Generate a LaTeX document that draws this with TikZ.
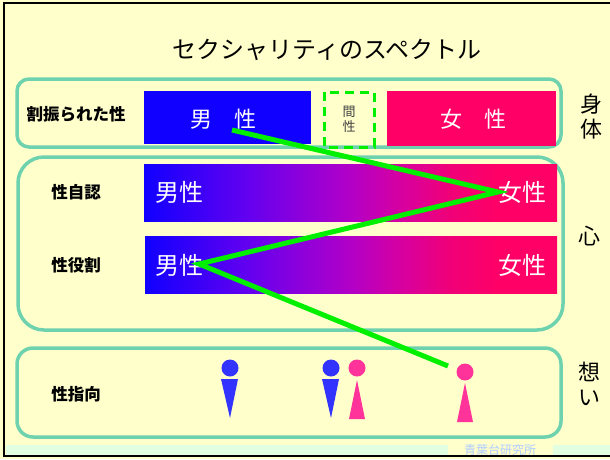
\documentclass[tikz,border=0pt]{standalone}
\usepackage{fontspec}
\usepackage{xcolor}
\newfontfamily\jp{Noto Sans CJK JP}

\definecolor{fondo}{RGB}{255,255,204}
\definecolor{marco}{RGB}{110,210,175}
\definecolor{azul}{RGB}{16,0,255}
\definecolor{rosa}{RGB}{255,0,102}
\definecolor{verde}{RGB}{0,240,0}
\definecolor{figazul}{RGB}{51,51,255}
\definecolor{figrosa}{RGB}{255,51,153}
\definecolor{franja}{RGB}{226,255,226}
\definecolor{sello}{RGB}{175,205,255}

% degradado azul -> morado -> rosa
\pgfdeclarehorizontalshading{espectro}{100bp}{%
  rgb(0bp)=(0.063,0,1); rgb(25bp)=(0.063,0,1);
  rgb(37.5bp)=(0.39,0,0.94); rgb(43.8bp)=(0.55,0,0.86);
  rgb(50bp)=(0.70,0,0.78); rgb(56bp)=(0.84,0,0.63);
  rgb(62bp)=(0.94,0,0.47); rgb(68bp)=(1,0,0.4);
  rgb(75bp)=(1,0,0.4); rgb(100bp)=(1,0,0.4)}

\tikzset{
  caja/.style={draw=marco, line width=3.5pt},
  etiq/.style={font=\jp\bfseries\fontsize{16.5}{16.5}\selectfont, text=black},
  lado/.style={font=\jp\fontsize{22}{25}\selectfont, align=center, text=black},
  sexo/.style={font=\jp\fontsize{22}{22}\selectfont, text=white},
  grad/.style={font=\jp\fontsize{24}{24}\selectfont, text=white}
}

\begin{document}
\begin{tikzpicture}[x=1pt,y=-1pt]

    % fondo y marco
    \useasboundingbox (0,0) rectangle (610,459);
    \fill[fondo] (0,0) rectangle (610,459);
    \draw[black, line width=2pt] (612,3) -- (4,3) -- (4,456) -- (612,456);

    % titulo
    \node[font=\jp\fontsize{24}{24}\selectfont] (titulo) at (327,50) {セクシャリティのスペクトル};

    % cajas redondeadas
    \draw[caja, rounded corners=12pt] (17,79) rectangle (561,147);
    \draw[caja, rounded corners=26pt] (18,157) rectangle (563,330);
    \draw[caja, rounded corners=16pt] (17,348) rectangle (561,437);

    % fila 1: sexo asignado
    \node[etiq] (asig) at (76,114) {割振られた性};
    \fill[azul] (144,91) rectangle (311,144);
    \node[sexo] (hombre) at (223,119) {男　性};
    \draw[verde, line width=3pt, dash pattern=on 9pt off 6pt] (324,92) rectangle (374,147);
    \node[font=\jp\fontsize{13}{15}\selectfont, text=black!75, align=center] (inter) at (349,119) {間\\性};
    \fill[rosa] (387,91) rectangle (556,146);
    \node[sexo] (mujer) at (473,119) {女　性};

    % filas 2 y 3: identidad y rol
    \node[etiq] (ident) at (76,192) {性自認};
    \shade[shading=espectro] (144,164) rectangle (557,221);
    \node[grad] (ident1) at (179,192) {男性};
    \node[grad] (ident2) at (522,192) {女性};

    \node[etiq] (rol) at (76,265) {性役割};
    \shade[shading=espectro] (145,236) rectangle (557,293);
    \node[grad] (rol1) at (179,265) {男性};
    \node[grad] (rol2) at (522,265) {女性};

    % fila 4: orientacion
    \node[etiq] (orient) at (76,394) {性指向};
    \fill[figazul] (230,368) circle (8.5pt);
    \fill[figazul] (221,379) -- (238,379) -- (230,418) -- cycle;
    \fill[figazul] (331,368) circle (8.5pt);
    \fill[figazul] (322,379) -- (339,379) -- (331,418) -- cycle;
    \fill[figrosa] (357,368) circle (8.5pt);
    \fill[figrosa] (357,380) -- (365,419) -- (349,419) -- cycle;
    \fill[figrosa] (465,372) circle (8.5pt);
    \fill[figrosa] (465,383) -- (473,422) -- (457,422) -- cycle;

    % textos a la derecha
    \node[lado] (cuerpo) at (591,117) {身\\体};
    \node[lado] (mente) at (589,236) {心};
    \node[lado] (deseo) at (589,384) {想\\い};

    % linea verde
    \coordinate (v1) at (232,130);
    \coordinate (v2) at (498,192);
    \coordinate (v3) at (199,264);
    \coordinate (v4) at (448,366);
    \draw[verde, line width=5pt] (v1) -- (v2) -- (v3) -- (v4);

    % sello
    \fill[franja] (6,445) rectangle (448,455);
    \fill[franja] (553,445) rectangle (610,455);
    \node[font=\jp\fontsize{12}{12}\selectfont, text=sello] (firma) at (500,450) {青葉台研究所};

\end{tikzpicture}
\end{document}
